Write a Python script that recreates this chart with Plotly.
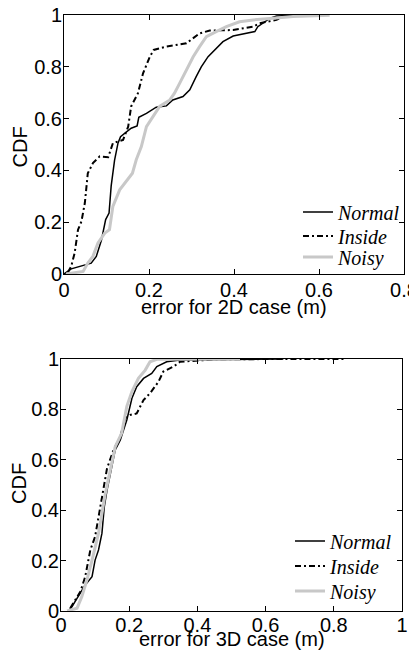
import plotly.graph_objects as go

# 2D case CDF curves
normal_2d_x = [0.0, 0.017, 0.064, 0.076, 0.088, 0.098, 0.106, 0.111, 0.119, 0.127, 0.133, 0.147, 0.158,
               0.172, 0.176, 0.194, 0.217, 0.241, 0.256, 0.28, 0.296, 0.311, 0.323, 0.339, 0.358, 0.374,
               0.398, 0.429, 0.449, 0.456, 0.468, 0.484, 0.5, 0.554]
normal_2d_y = [0.0, 0.02, 0.042, 0.068, 0.13, 0.21, 0.235, 0.34, 0.44, 0.505, 0.53, 0.55, 0.563,
               0.572, 0.605, 0.62, 0.644, 0.649, 0.672, 0.685, 0.711, 0.762, 0.80, 0.839, 0.871, 0.897,
               0.919, 0.929, 0.936, 0.955, 0.968, 0.987, 0.996, 1.0]

inside_2d_x = [0.009, 0.017, 0.025, 0.033, 0.041, 0.049, 0.056, 0.068, 0.084, 0.104, 0.115, 0.139, 0.151,
               0.158, 0.174, 0.186, 0.202, 0.211, 0.241, 0.288, 0.319, 0.343, 0.398, 0.445, 0.46, 0.476,
               0.5, 0.515, 0.554]
inside_2d_y = [0.006, 0.03, 0.081, 0.171, 0.203, 0.274, 0.389, 0.428, 0.454, 0.451, 0.505, 0.518, 0.569,
               0.647, 0.698, 0.775, 0.839, 0.865, 0.878, 0.891, 0.929, 0.94, 0.942, 0.955, 0.968, 0.974,
               0.981, 0.994, 0.999]

noisy_2d_x = [0.005, 0.045, 0.056, 0.068, 0.08, 0.096, 0.107, 0.115, 0.131, 0.151, 0.161, 0.17, 0.182,
              0.194, 0.21, 0.225, 0.249, 0.26, 0.272, 0.288, 0.304, 0.319, 0.335, 0.358, 0.382, 0.413,
              0.445, 0.492, 0.539, 0.625]
noisy_2d_y = [0.0, 0.01, 0.042, 0.068, 0.12, 0.158, 0.171, 0.261, 0.325, 0.37, 0.389, 0.441, 0.492,
              0.569, 0.608, 0.647, 0.672, 0.698, 0.736, 0.788, 0.839, 0.878, 0.916, 0.936, 0.955, 0.974,
              0.981, 0.987, 0.994, 0.999]

# 3D case CDF curves
normal_3d_x = [0.022, 0.032, 0.047, 0.061, 0.071, 0.091, 0.1, 0.11, 0.12, 0.127, 0.135, 0.149, 0.159,
               0.174, 0.193, 0.208, 0.222, 0.242, 0.266, 0.281, 0.31, 0.349, 0.505, 0.652]
normal_3d_y = [0.0, 0.017, 0.05, 0.083, 0.103, 0.136, 0.202, 0.242, 0.308, 0.414, 0.48, 0.573, 0.639,
               0.679, 0.758, 0.844, 0.89, 0.923, 0.943, 0.97, 0.989, 0.996, 0.999, 1.0]

inside_3d_x = [0.027, 0.042, 0.057, 0.071, 0.086, 0.1, 0.115, 0.135, 0.154, 0.174, 0.188, 0.203, 0.222,
               0.242, 0.261, 0.286, 0.3, 0.33, 0.349, 0.457, 0.7, 0.837]
inside_3d_y = [0.011, 0.044, 0.077, 0.136, 0.242, 0.295, 0.414, 0.566, 0.639, 0.692, 0.765, 0.778, 0.784,
               0.837, 0.864, 0.91, 0.95, 0.97, 0.989, 0.999, 1.0, 1.0]

noisy_3d_x = [0.018, 0.047, 0.061, 0.076, 0.091, 0.11, 0.13, 0.144, 0.159, 0.178, 0.193, 0.208, 0.227,
              0.247, 0.261, 0.281, 0.359, 0.525]
noisy_3d_y = [0.0, 0.011, 0.057, 0.123, 0.202, 0.308, 0.466, 0.56, 0.652, 0.706, 0.812, 0.871, 0.923,
              0.956, 0.989, 0.999, 1.0, 1.0]

names = ["Normal", "Inside", "Noisy"]
ticks = [0, 0.2, 0.4, 0.6, 0.8, 1]
tick_labels = ["0", "0.2", "0.4", "0.6", "0.8", "1"]

# the page body has an 8px margin, so the figure is shrunk by that and
# all layout positions below are given in window pixels
PAD = 8
W, H = 417 - PAD, 653 - PAD


def px(x):
    return (x - PAD) / W


def py(y):
    return 1 - (y - PAD) / H


tick_font = dict(family="Liberation Sans, Arial", size=20, color="black")
leg_font = dict(family="Liberation Serif, Times New Roman", size=20, color="black", style="italic")

styles = {
    "Normal": dict(color="black", width=1.5, dash="solid"),
    "Inside": dict(color="black", width=2, dash="6px,3px,2px,3px"),
    "Noisy": dict(color="#c8c8c8", width=3, dash="solid"),
}

fig = go.Figure()
top = [(normal_2d_x, normal_2d_y), (inside_2d_x, inside_2d_y), (noisy_2d_x, noisy_2d_y)]
bot = [(normal_3d_x, normal_3d_y), (inside_3d_x, inside_3d_y), (noisy_3d_x, noisy_3d_y)]

# each legend entry gets its own legend box so the rows can sit tight like the original
for i, (name, (x, y)) in enumerate(zip(names, top)):
    fig.add_trace(go.Scatter(x=x, y=y, mode="lines", name=name, line=styles[name],
                             xaxis="x", yaxis="y", legend="legend" if i == 0 else f"legend{i + 1}"))
for i, (name, (x, y)) in enumerate(zip(names, bot)):
    fig.add_trace(go.Scatter(x=x, y=y, mode="lines", name=name, line=styles[name],
                             xaxis="x2", yaxis="y2", legend=f"legend{i + 4}"))

ax = dict(showgrid=False, zeroline=False, showline=True, linecolor="black", linewidth=1,
          mirror="ticks", ticks="inside", ticklen=5, tickcolor="black", tickfont=tick_font,
          automargin=False, ticklabeloverflow="allow", tickvals=ticks, ticktext=tick_labels)


def leg(xpx, ypx):
    return dict(x=px(xpx), y=py(ypx), xanchor="left", yanchor="middle", font=leg_font,
                bgcolor="rgba(0,0,0,0)", borderwidth=0, itemwidth=30)


def label(text, xpx, ypx, angle=0):
    return dict(text=text, x=px(xpx), y=py(ypx), xref="paper", yref="paper", showarrow=False,
                xanchor="center", yanchor="middle", textangle=angle, font=tick_font)


fig.update_layout(
    width=W, height=H,
    margin=dict(l=0, r=0, t=0, b=0),
    paper_bgcolor="white", plot_bgcolor="white",
    xaxis=dict(ax, domain=[px(64), px(404)], range=[0, 0.8], anchor="y", ticklabelstandoff=-2),
    yaxis=dict(ax, domain=[py(274), py(15)], range=[0, 1], anchor="x", ticklabelstandoff=-3),
    xaxis2=dict(ax, domain=[px(61), px(402)], range=[0, 1], anchor="y2", ticklabelstandoff=-4),
    yaxis2=dict(ax, domain=[py(611), py(359)], range=[0, 1], anchor="x2", ticklabelstandoff=-3),
    legend=leg(298, 212),
    legend2=leg(298, 236),
    legend3=leg(298, 257),
    legend4=leg(290, 541),
    legend5=leg(290, 566),
    legend6=leg(290, 591),
    showlegend=True,
    annotations=[
        label("CDF", 19.5, 147, -90),
        label("error for 2D case (m)", 234, 307),
        label("CDF", 19, 484, -90),
        label("error for 3D case (m)", 232, 639),
    ],
)

fig.write_html("out.html")
